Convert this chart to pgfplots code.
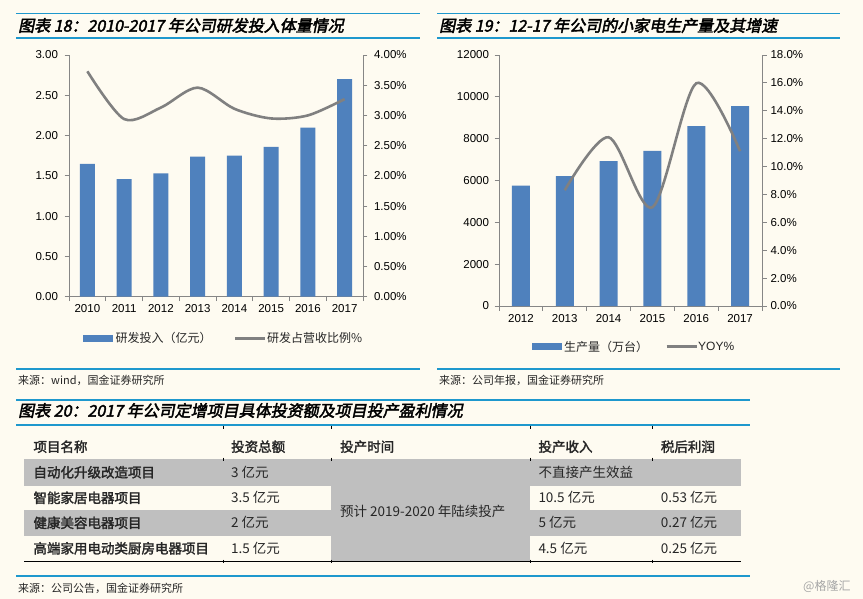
\documentclass[border=0pt]{standalone}
\usepackage{pgfplots}
\pgfplotsset{compat=1.18}
\usepackage{fontspec}
\setmainfont{Liberation Sans}
\newfontfamily\cjk{Noto Sans CJK SC}
\newfontfamily\cjkb[FakeBold=2]{Noto Sans CJK SC}
\newfontfamily\ttl[FakeSlant=0.2,FakeBold=2.5]{Noto Sans CJK SC}
\definecolor{bg}{RGB}{254,251,241}
\definecolor{barblue}{RGB}{79,129,189}
\definecolor{linegray}{RGB}{128,128,128}
\definecolor{axisgray}{RGB}{134,134,134}
\definecolor{rulec}{RGB}{30,152,205}
\definecolor{cellgray}{RGB}{191,191,191}
\definecolor{txt}{RGB}{38,38,38}
\newcommand\TbS{\fontsize{13.5}{15}\selectfont}
\newcommand\TlS{\fontsize{16}{18}\selectfont}
\newcommand\SrS{\fontsize{11}{12}\selectfont}
\newcommand\LgS{\fontsize{12}{13}\selectfont}
\pgfplotsset{
  /pgf/number format/assume math mode=true,
  mystyle/.style={
    scale only axis, anchor=south west,
    axis line style={-,draw=axisgray,line width=0.8pt},
    x axis line style={-}, y axis line style={-},
    tick style={draw=axisgray,line width=0.8pt},
    tick align=outside, major tick length=4.5pt,
    ticklabel style={font=\fontsize{11.5}{13}\selectfont, text=black},
    scaled ticks=false,
    /pgf/number format/1000 sep={},
  }
}
\begin{document}
\begin{tikzpicture}
\useasboundingbox (0,0) rectangle (863pt,-599pt);
\fill[bg] (0,0) rectangle (863pt,-599pt);
\begin{scope}[x=1pt,y=-1pt]
% section rules
\draw[rulec,line width=1.5pt] (16,13.3)--(420,13.3);
\draw[rulec,line width=2pt] (16,38.3)--(420,38.3);
\draw[rulec,line width=2pt] (16,369)--(420,369);
\draw[rulec,line width=1.5pt] (437,13.3)--(840,13.3);
\draw[rulec,line width=2pt] (437,38.3)--(840,38.3);
\draw[rulec,line width=2pt] (437,369)--(840,369);
\draw[rulec,line width=1.5pt] (16,400)--(750,400);
\draw[rulec,line width=2pt] (16,424.5)--(750,424.5);
\draw[rulec,line width=2pt] (16,576)--(750,576);
% titles
\node[anchor=west,inner sep=0,text=black] at (18,25.5) {\ttl\TlS 图表 18：2010-2017 年公司研发投入体量情况};
\node[anchor=west,inner sep=0,text=black] at (439,25.5) {\ttl\TlS 图表 19：12-17 年公司的小家电生产量及其增速};
\node[anchor=west,inner sep=0,text=black] at (18,410.5) {\ttl\TlS 图表 20：2017 年公司定增项目具体投资额及项目投产盈利情况};
% sources
\node[anchor=west,inner sep=0,text=txt] at (18,380) {\cjk\SrS 来源：wind，国金证券研究所};
\node[anchor=west,inner sep=0,text=txt] at (439,380) {\cjk\SrS 来源：公司年报，国金证券研究所};
\node[anchor=west,inner sep=0,text=txt] at (18,588) {\cjk\SrS 来源：公司公告，国金证券研究所};
\node[anchor=west,inner sep=0,text=black!35] at (803,586) {\cjk\fontsize{12}{14}\selectfont @格隆汇};
% legends
\fill[barblue] (83.3,335) rectangle (112.7,341.7);
\node[anchor=west,inner sep=0,text=txt] at (115.5,338.3) {\cjk\LgS 研发投入（亿元）};
\draw[linegray,line width=2.6pt] (235,338.3)--(265,338.3);
\node[anchor=west,inner sep=0,text=txt] at (267,338.3) {\cjk\LgS 研发占营收比例\%};
\fill[barblue] (531.7,343.3) rectangle (561.7,350);
\node[anchor=west,inner sep=0,text=txt] at (564,346.7) {\cjk\LgS 生产量（万台）};
\draw[linegray,line width=2.6pt] (666.7,346.7)--(696.7,346.7);
\node[anchor=west,inner sep=0,text=txt] at (698,346.7) {\LgS YOY\%};
% table
\fill[cellgray] (24,459) rectangle (331,485.7);
\fill[cellgray] (24,510) rectangle (331,535.7);
\fill[cellgray] (331,459) rectangle (530,561);
\fill[cellgray] (530,459) rectangle (740.7,485.7);
\fill[cellgray] (530,510) rectangle (740.7,535.7);
\draw[black,line width=0.8pt] (24,561)--(740.7,561);
\foreach \cx in {223.3,331,530,652.3}{
  \draw[black,line width=0.8pt] (\cx,425.5)--(\cx,428.5);
  \draw[black,line width=0.8pt] (\cx,457.5)--(\cx,460.5);
  \draw[black,line width=0.8pt] (\cx,559.5)--(\cx,562.5);
}
\node[anchor=west,inner sep=0,text=txt] at (33.3,446.7) {\cjkb\TbS 项目名称};
\node[anchor=west,inner sep=0,text=txt] at (231,446.7) {\cjkb\TbS 投资总额};
\node[anchor=west,inner sep=0,text=txt] at (340,446.7) {\cjkb\TbS 投产时间};
\node[anchor=west,inner sep=0,text=txt] at (538.3,446.7) {\cjkb\TbS 投产收入};
\node[anchor=west,inner sep=0,text=txt] at (660.7,446.7) {\cjkb\TbS 税后利润};
\node[anchor=west,inner sep=0,text=txt] at (33.3,472.3) {\cjkb\TbS 自动化升级改造项目};
\node[anchor=west,inner sep=0,text=txt] at (33.3,497.8) {\cjkb\TbS 智能家居电器项目};
\node[anchor=west,inner sep=0,text=txt] at (33.3,522.8) {\cjkb\TbS 健康美容电器项目};
\node[anchor=west,inner sep=0,text=txt] at (33.3,548.3) {\cjkb\TbS 高端家用电动类厨房电器项目};
\node[anchor=west,inner sep=0,text=txt] at (231,472.3) {\cjk\TbS 3 亿元};
\node[anchor=west,inner sep=0,text=txt] at (231,497.8) {\cjk\TbS 3.5 亿元};
\node[anchor=west,inner sep=0,text=txt] at (231,522.8) {\cjk\TbS 2 亿元};
\node[anchor=west,inner sep=0,text=txt] at (231,548.3) {\cjk\TbS 1.5 亿元};
\node[anchor=west,inner sep=0,text=txt] at (340,511.5) {\cjk\TbS 预计 2019-2020 年陆续投产};
\node[anchor=west,inner sep=0,text=txt] at (538.3,472.3) {\cjk\TbS 不直接产生效益};
\node[anchor=west,inner sep=0,text=txt] at (538.3,497.8) {\cjk\TbS 10.5 亿元};
\node[anchor=west,inner sep=0,text=txt] at (538.3,522.8) {\cjk\TbS 5 亿元};
\node[anchor=west,inner sep=0,text=txt] at (538.3,548.3) {\cjk\TbS 4.5 亿元};
\node[anchor=west,inner sep=0,text=txt] at (660.7,497.8) {\cjk\TbS 0.53 亿元};
\node[anchor=west,inner sep=0,text=txt] at (660.7,522.8) {\cjk\TbS 0.27 亿元};
\node[anchor=west,inner sep=0,text=txt] at (660.7,548.3) {\cjk\TbS 0.25 亿元};
\end{scope}
% ---------- chart 18 ----------
\begin{axis}[mystyle, at={(69pt,-296.7pt)}, width=294pt, height=241.7pt,
  xmin=-0.5, xmax=7.5, ymin=0, ymax=3,
  axis x line*=bottom, axis y line*=left,
  xtick={0,...,7}, xticklabels={2010,2011,2012,2013,2014,2015,2016,2017},
  xtick style={draw=none},
  extra x ticks={-0.5,0.5,1.5,2.5,3.5,4.5,5.5,6.5,7.5}, extra x tick labels={},
  extra x tick style={xtick style={draw=axisgray}},
  ytick={0,0.5,1,1.5,2,2.5,3},
  yticklabel style={/pgf/number format/.cd,fixed,fixed zerofill,precision=2,/tikz/.cd,xshift=-3pt},
]
\addplot[ybar, bar width=15pt, bar shift=0pt, fill=barblue, draw=none] coordinates
  {(0,1.65) (1,1.46) (2,1.53) (3,1.74) (4,1.75) (5,1.86) (6,2.10) (7,2.70)};
\end{axis}
\begin{axis}[mystyle, at={(69pt,-296.7pt)}, width=294pt, height=241.7pt,
  xmin=-0.5, xmax=7.5, ymin=0, ymax=4,
  axis x line=none, axis y line*=right,
  ytick={0,0.5,1,1.5,2,2.5,3,3.5,4},
  yticklabel={\pgfmathprintnumber[fixed,fixed zerofill,precision=2]{\tick}\%},
  yticklabel style={xshift=3pt},
]
\addplot[smooth, line width=2.6pt, color=linegray] coordinates
  {(0,3.73) (1,2.94) (2,3.13) (3,3.46) (4,3.11) (5,2.95) (6,3.00) (7,3.27)};
\end{axis}
% ---------- chart 19 ----------
\begin{axis}[mystyle, at={(499pt,-306pt)}, width=263pt, height=251pt,
  xmin=-0.5, xmax=5.5, ymin=0, ymax=12000,
  axis x line*=bottom, axis y line*=left,
  xtick={0,...,5}, xticklabels={2012,2013,2014,2015,2016,2017},
  xtick style={draw=none},
  extra x ticks={-0.5,0.5,1.5,2.5,3.5,4.5,5.5}, extra x tick labels={},
  extra x tick style={xtick style={draw=axisgray}},
  ytick={0,2000,4000,6000,8000,10000,12000},
  yticklabel style={xshift=-2pt},
]
\addplot[ybar, bar width=18pt, bar shift=0pt, fill=barblue, draw=none] coordinates
  {(0,5750) (1,6210) (2,6930) (3,7420) (4,8600) (5,9560)};
\end{axis}
\begin{axis}[mystyle, at={(499pt,-306pt)}, width=263pt, height=251pt,
  xmin=-0.5, xmax=5.5, ymin=0, ymax=18,
  axis x line=none, axis y line*=right,
  ytick={0,2,4,6,8,10,12,14,16,18},
  yticklabel={\pgfmathprintnumber[fixed,fixed zerofill,precision=1]{\tick}\%},
  yticklabel style={xshift=0.5pt},
]
\addplot[smooth, line width=2.6pt, color=linegray] coordinates
  {(1,8.3) (2,12.1) (3,7.08) (4,15.97) (5,11.1)};
\end{axis}
\end{tikzpicture}
\end{document}
